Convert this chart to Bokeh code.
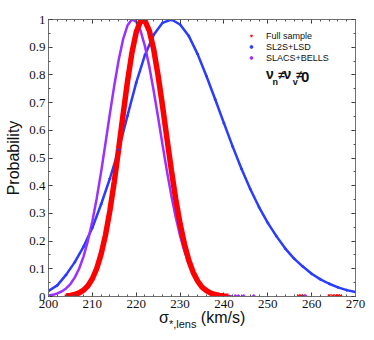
from bokeh.plotting import figure
from bokeh.layouts import column
from bokeh.models import (SingleIntervalTicker, LinearAxis, NumeralTickFormatter,
                          Label, Legend, LegendItem, Div)
from bokeh.embed import file_html
from bokeh.resources import INLINE

# ---- data ----
sigma_full = [204, 205, 206, 207, 208, 209, 210, 211, 212, 213, 214, 215, 216, 217,
              218, 219, 220, 221, 222, 223, 224, 225, 226, 227, 228, 229, 230, 231,
              232, 233, 234, 235, 236, 237, 238, 239, 240, 241]
prob_full = [0.002, 0.004, 0.007, 0.013, 0.023, 0.039, 0.064, 0.101, 0.153, 0.222,
             0.310, 0.415, 0.533, 0.656, 0.775, 0.878, 0.954, 0.995, 0.995, 0.959,
             0.891, 0.797, 0.688, 0.572, 0.458, 0.353, 0.263, 0.189, 0.130, 0.087,
             0.056, 0.034, 0.021, 0.012, 0.007, 0.004, 0.002, 0.001]

sigma_sl2s = [200, 202, 204, 206, 208, 210, 212, 214, 216, 218, 220, 222, 224, 226,
              228, 230, 232, 234, 236, 238, 240, 242, 244, 246, 248, 250, 252, 254,
              256, 258, 260, 262, 264, 266, 268, 270]
prob_sl2s = [0.020, 0.040, 0.078, 0.124, 0.180, 0.248, 0.333, 0.426, 0.530, 0.652,
             0.772, 0.872, 0.945, 0.988, 1.000, 0.982, 0.940, 0.875, 0.796, 0.712,
             0.626, 0.541, 0.461, 0.388, 0.323, 0.266, 0.217, 0.173, 0.137, 0.108,
             0.082, 0.062, 0.046, 0.033, 0.023, 0.016]

sigma_slacs = [200, 201, 202, 203, 204, 205, 206, 207, 208, 209, 210, 211, 212, 213,
               214, 215, 216, 217, 218, 219, 220, 221, 222, 223, 224, 225, 226, 227,
               228, 229, 230, 231, 232, 233, 234, 235, 236, 237, 238, 239, 240, 241, 242]
prob_slacs = [0.004, 0.006, 0.011, 0.018, 0.029, 0.045, 0.069, 0.101, 0.145, 0.202,
              0.272, 0.355, 0.450, 0.554, 0.660, 0.762, 0.854, 0.928, 0.978, 1.000,
              0.992, 0.959, 0.903, 0.829, 0.741, 0.646, 0.548, 0.453, 0.365, 0.287,
              0.219, 0.164, 0.119, 0.084, 0.058, 0.039, 0.025, 0.016, 0.010, 0.006,
              0.004, 0.002, 0.001]

# stray samples near zero in the tails
tail_full_x = [257.0, 257.6, 258.1, 264.0, 264.8, 265.5, 266.0, 266.6]
tail_full_y = [0.002, 0.002, 0.002, 0.002, 0.002, 0.002, 0.002, 0.002]
tail_slacs_x = [242.6, 243.3, 244.5, 246.8, 258.6]
tail_slacs_y = [0.002, 0.002, 0.002, 0.002, 0.002]

labels = ["Full sample", "SL2S+LSD", "SLACS+BELLS"]

RED = "#ff0000"
BLUE = "#2a3cff"
PURPLE = "#9b30ff"
NARROW = "Liberation Sans Narrow"
SANS = "Liberation Sans"

p = figure(frame_width=307, frame_height=277, x_range=(200, 270), y_range=(0, 1),
           output_backend="svg", toolbar_location=None,
           min_border_left=48, min_border_right=19, min_border_top=19,
           min_border_bottom=20)
p.xgrid.visible = False
p.ygrid.visible = False
p.outline_line_color = "#808080"
p.background_fill_color = "white"
p.border_fill_color = "white"

# curves
p.line(sigma_sl2s, prob_sl2s, line_color=BLUE, line_width=2.5)
p.line(sigma_slacs, prob_slacs, line_color=PURPLE, line_width=2.5)
p.line(sigma_full, prob_full, line_color=RED, line_width=5.5)

r_full = p.scatter(sigma_full + tail_full_x, prob_full + tail_full_y, marker="x",
                   size=4, line_color=RED, line_width=1.2)
r_sl2s = p.scatter(sigma_sl2s, prob_sl2s, marker="circle", size=2,
                   fill_color=BLUE, line_color=BLUE)
r_slacs = p.scatter(tail_slacs_x, tail_slacs_y, marker="circle", size=2.5,
                    fill_color=PURPLE, line_color=PURPLE)

legend = Legend(items=[LegendItem(label=labels[0], renderers=[r_full]),
                       LegendItem(label=labels[1], renderers=[r_sl2s]),
                       LegendItem(label=labels[2], renderers=[r_slacs])],
                location=(198, 233), padding=0, margin=0, spacing=0,
                glyph_width=10, glyph_height=7, label_height=11,
                label_standoff=10, label_text_font=SANS,
                label_text_font_size="9px", label_text_color="#111111",
                border_line_color=None, background_fill_alpha=0)
p.add_layout(legend)

def style_axis(ax, show_labels=True):
    ax.axis_line_color = "#707070"
    ax.major_tick_line_color = "#333333"
    ax.minor_tick_line_color = "#555555"
    ax.major_tick_in = 4
    ax.major_tick_out = 0
    ax.minor_tick_in = 2
    ax.minor_tick_out = 0
    ax.major_label_text_font = NARROW
    if show_labels:
        ax.major_label_text_font_size = "13px"
        ax.major_label_text_color = "#111111"
        ax.major_label_standoff = 3
    else:
        ax.major_label_text_font_size = "0px"
        ax.major_label_text_color = None
        ax.major_label_standoff = 0

p.xaxis.ticker = SingleIntervalTicker(interval=10, num_minor_ticks=5)
p.yaxis.ticker = SingleIntervalTicker(interval=0.1, num_minor_ticks=2)
p.yaxis.formatter = NumeralTickFormatter(format="0.[0]")
style_axis(p.xaxis[0])
style_axis(p.yaxis[0])
p.yaxis.axis_label = "Probability"
p.yaxis.axis_label_text_font = SANS
p.yaxis.axis_label_text_font_size = "16px"
p.yaxis.axis_label_text_font_style = "normal"
p.yaxis.axis_label_text_color = "#111111"
p.yaxis.axis_label_standoff = 4

top = LinearAxis(ticker=SingleIntervalTicker(interval=10, num_minor_ticks=5))
right = LinearAxis(ticker=SingleIntervalTicker(interval=0.1, num_minor_ticks=2))
style_axis(top, False)
style_axis(right, False)
p.add_layout(top, "above")
p.add_layout(right, "right")

# annotation  nu_n != nu_v != 0
ann = [
    ("ν", 249.6, 0.776, "14px"),
    ("n", 251.1, 0.755, "9px"),
    ("≠", 252.4, 0.776, "12px"),
    ("ν", 253.6, 0.776, "14px"),
    ("v", 255.7, 0.755, "9px"),
    ("≠", 256.5, 0.776, "12px"),
    ("0", 257.6, 0.776, "15px"),
]
for t, x, y, fs in ann:
    p.add_layout(Label(x=x, y=y, text=t, text_font=SANS, text_font_size=fs,
                       text_font_style="bold", text_color="#111111"))

# x-axis label with subscript
xlabel_html = (
    '<div style="position:relative;top:-6px;padding-left:159px;white-space:nowrap;'
    'font-family:\'Liberation Sans Narrow\',\'Liberation Sans\',sans-serif;'
    'font-size:16px;line-height:16px;color:#111111;">'
    'σ<span style="font-size:11px;position:relative;top:5px;">*,lens</span>'
    '&nbsp;(km/s)</div>'
)
div = Div(text=xlabel_html, width=374, height=24, margin=0)

layout = column(p, div, spacing=0, margin=0)
open("out.html", "w").write(file_html(layout, INLINE))
